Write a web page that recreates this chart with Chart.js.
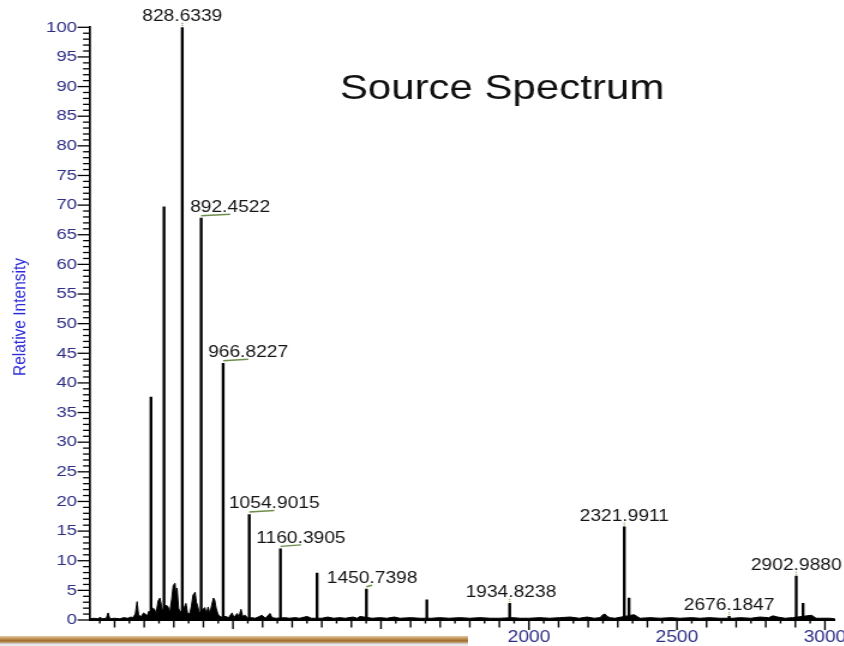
<!DOCTYPE html>
<html>
<head>
<meta charset="utf-8">
<title>Source Spectrum</title>
<style>
  html, body { margin: 0; padding: 0; background: #ffffff; overflow: hidden; }
  #wrap { position: relative; width: 844px; height: 646px; overflow: hidden; background: #fff; }
  #c { position: absolute; left: 0; top: 0; }
  #strip { position: absolute; left: 0; top: 629px; width: 468px; height: 17px; background: #ffffff; }
  #strip .brown { position: absolute; left: 0; top: 7px; width: 100%; height: 7px;
    background: linear-gradient(to bottom, #e2c9a0 0%, #b98a4a 45%, #9c6a2c 70%, #d2b182 100%); }
  #strip .grey { position: absolute; left: 0; top: 14px; width: 100%; height: 3px; background: #e9e9e9; border-top: 1px solid #c9c9c9; }
</style>
<script src="https://cdn.jsdelivr.net/npm/chart.js@4.4.1/dist/chart.umd.min.js"></script>
</head>
<body>
<div id="wrap">
  <canvas id="c" width="725" height="646" style="width:870px;height:646px;"></canvas>
  <div id="strip"><div class="brown"></div><div class="grey"></div></div>
</div>
<script>
// ---------------- data ----------------
// low-level profile (baseline noise and the unresolved cluster), m/z and relative intensity
const profileMz = [517,530,545,551,558,572,578,584,600,618,630,645,655,662,670,676,681,690,698,703,710,716,720,730,735,740,747,753,758,762,772,780,786,793,798,804,808,811,816,822,835,841,847,855,860,865,872,876,880,886,905,910,916,922,928,934,938,943,949,955,962,975,985,997,1003,1014,1020,1027,1033,1041,1050,1065,1074,1085,1098,1110,1125,1132,1145,1176,1190,1210,1225,1250,1265,1300,1320,1340,1360,1380,1405,1420,1429,1470,1497,1520,1545,1564,1600,1632,1670,1699,1730,1767,1800,1834,1870,1902,1945,1970,2000,2037,2070,2105,2139,2170,2196,2220,2240,2250,2257,2264,2274,2290,2355,2375,2410,2443,2480,2510,2550,2578,2610,2645,2690,2713,2750,2780,2810,2824,2840,2865,2890,2955,2970,2983,3017,3034];
const profileIntensity = [0.2,0.3,0.2,0.5,0.2,0.3,1.2,0.2,0.3,0.2,0.4,0.3,0.5,0.4,1.0,3.1,0.8,0.6,1.2,1.0,0.7,1.5,1.2,2.0,1.8,1.0,3.2,3.7,2.5,1.5,2.5,2.3,1.2,3.5,5.8,6.2,4.0,5.4,2.0,1.3,2.1,2.8,1.0,1.2,2.5,4.2,4.7,3.0,2.5,1.2,2.1,1.0,2.2,1.0,2.5,3.7,3.4,2.0,1.0,0.6,0.5,0.6,0.4,1.2,0.4,1.1,0.5,1.8,0.6,0.8,0.3,0.4,0.3,0.5,0.8,0.3,1.1,0.4,0.3,0.4,0.3,0.4,0.3,0.6,0.3,0.3,0.5,0.3,0.4,0.3,0.5,0.3,0.6,0.3,0.4,0.3,0.5,0.3,0.4,0.3,0.3,0.4,0.3,0.4,0.3,0.4,0.3,0.3,0.4,0.3,0.3,0.4,0.3,0.4,0.5,0.3,0.5,0.3,0.4,0.9,1.0,0.6,0.4,0.3,0.9,0.3,0.4,0.3,0.4,0.3,0.4,0.3,0.4,0.3,0.3,0.4,0.3,0.5,0.4,0.7,0.5,0.3,0.4,0.8,0.3,0.3,0.3,0.2];

// centroided peaks (sticks)
const peakMz = [723, 767, 828.6339, 892.4522, 966.8227, 1054.9015, 1160.3905, 1284, 1450.7398, 1655, 1934.8238, 2321.9911, 2338, 2676.1847, 2902.9880, 2926];
const peakIntensity = [37.6, 69.7, 100, 67.8, 43.3, 17.8, 12.0, 7.9, 5.2, 3.4, 2.8, 15.7, 3.7, 0.6, 7.4, 2.8];

// annotated peaks
const labeledMz = [828.6339, 892.4522, 966.8227, 1054.9015, 1160.3905, 1450.7398, 1934.8238, 2321.9911, 2676.1847, 2902.9880];
const peakLabels = ['828.6339', '892.4522', '966.8227', '1054.9015', '1160.3905', '1450.7398', '1934.8238', '2321.9911', '2676.1847', '2902.9880'];

// axes
const xLabelValues = [1000, 1500, 2000, 2500, 3000];
const yLabelStep = 5;
const chartTitle = 'Source Spectrum';
const yAxisTitle = 'Relative Intensity';

// ---------------- rendering ----------------
const S = 1.2; // canvas is drawn at 1/S width and stretched horizontally by CSS
const FONT = '"Liberation Sans", Arial, Helvetica, sans-serif';
const TICK_COLOR = '#2f2f86';

const labelDx = [0, 29, 25, 25, 20.5, 5.7, 1.2, 0, 0, 0]; // display px, label centre relative to peak

const decorPlugin = {
  id: 'decor',
  afterDraw(chart) {
    const ctx = chart.ctx;
    const xs = chart.scales.x, ys = chart.scales.y;
    const area = chart.chartArea;
    ctx.save();
    // x tick marks (50 / 100 / 500)
    ctx.strokeStyle = '#000';
    ctx.lineWidth = 1.4;
    for (let v = 550; v <= xs.max; v += 50) {
      const px = xs.getPixelForValue(v);
      const len = v % 500 === 0 ? 10 : (v % 100 === 0 ? 7.5 : 3.5);
      ctx.beginPath();
      ctx.moveTo(px, area.bottom);
      ctx.lineTo(px, area.bottom + len);
      ctx.stroke();
    }
    // y tick marks (1 / 5)
    ctx.lineWidth = 1.3;
    for (let v = 0; v <= 100; v += 1) {
      const py = ys.getPixelForValue(v);
      const len = v % 5 === 0 ? 12.5 / S : 7 / S;
      ctx.beginPath();
      ctx.moveTo(area.left - len, py);
      ctx.lineTo(area.left, py);
      ctx.stroke();
    }
    // y axis title
    ctx.save();
    ctx.translate(20 / S, 317);
    ctx.rotate(-Math.PI / 2);
    ctx.fillStyle = '#2a2ad8';
    ctx.font = '15.5px ' + FONT;
    ctx.textAlign = 'center';
    ctx.textBaseline = 'middle';
    ctx.fillText(yAxisTitle, 0, 0);
    ctx.restore();
    // peak labels
    ctx.font = '16px ' + FONT;
    ctx.textAlign = 'center';
    ctx.textBaseline = 'alphabetic';
    labeledMz.forEach((mz, i) => {
      const idx = peakMz.indexOf(mz);
      const h = peakIntensity[idx];
      const px = xs.getPixelForValue(mz);
      const py = ys.getPixelForValue(h);
      const dx = labelDx[i] / S;
      ctx.fillStyle = '#151515';
      ctx.fillText(peakLabels[i], px + dx, py - 6);
      if (labelDx[i] >= 4) {
        ctx.strokeStyle = '#6e8c4a';
        ctx.lineWidth = 1.5;
        ctx.beginPath();
        ctx.moveTo(px, py - 2.5);
        ctx.lineTo(px + dx, py - 4);
        ctx.stroke();
      } else {
        ctx.fillStyle = i === 0 ? '#7a9a4a' : '#b4a66a';
        ctx.fillRect(px - 0.6, py - 4.5, 1.2, 1.2);
        ctx.fillRect(px - 0.6, py - 2.5, 1.2, 1.2);
      }
    });
    // title
    ctx.fillStyle = '#111';
    ctx.font = '35px ' + FONT;
    ctx.textAlign = 'center';
    ctx.fillText(chartTitle, 502 / S, 99);
    ctx.restore();
  }
};

const ctxEl = document.getElementById('c');
new Chart(ctxEl, {
  type: 'line',
  data: {
    datasets: [
      {
        type: 'bar',
        label: 'peaks',
        data: peakMz.map((m, i) => ({ x: m, y: peakIntensity[i] })),
        backgroundColor: '#000',
        borderWidth: 0,
        barThickness: 1.7,
        grouped: false,
        order: 1
      },
      {
        type: 'line',
        label: 'profile',
        data: profileMz.map((m, i) => ({ x: m, y: profileIntensity[i] })),
        borderColor: '#000',
        backgroundColor: '#000',
        borderWidth: 1,
        fill: 'origin',
        pointRadius: 0,
        tension: 0,
        order: 2
      }
    ]
  },
  options: {
    responsive: false,
    animation: false,
    devicePixelRatio: 1,
    layout: { padding: { top: 27.3, right: 725 - 835 / S, bottom: 0, left: 0 } },
    plugins: { legend: { display: false }, tooltip: { enabled: false }, title: { display: false } },
    scales: {
      x: {
        type: 'linear',
        min: 517,
        max: 3034,
        offset: false,
        grid: { display: false, drawTicks: false },
        border: { display: true, color: '#000', width: 2 },
        afterBuildTicks: (scale) => { scale.ticks = xLabelValues.map(v => ({ value: v })); },
        ticks: {
          autoSkip: false,
          maxRotation: 0,
          padding: 8,
          color: TICK_COLOR,
          font: { family: FONT, size: 16 },
          callback: (v) => String(v)
        },
        afterFit: (scale) => { scale.height = 26; }
      },
      y: {
        type: 'linear',
        min: 0,
        max: 100,
        grid: { display: false, drawTicks: false },
        border: { display: true, color: '#000', width: 1.7 },
        ticks: {
          stepSize: yLabelStep,
          padding: 75 - 77 / S,
          color: TICK_COLOR,
          font: { family: FONT, size: 15.5 }
        },
        title: { display: false },
        afterFit: (scale) => { scale.width = 90 / S; }
      }
    }
  },
  plugins: [decorPlugin]
});
</script>
</body>
</html>
